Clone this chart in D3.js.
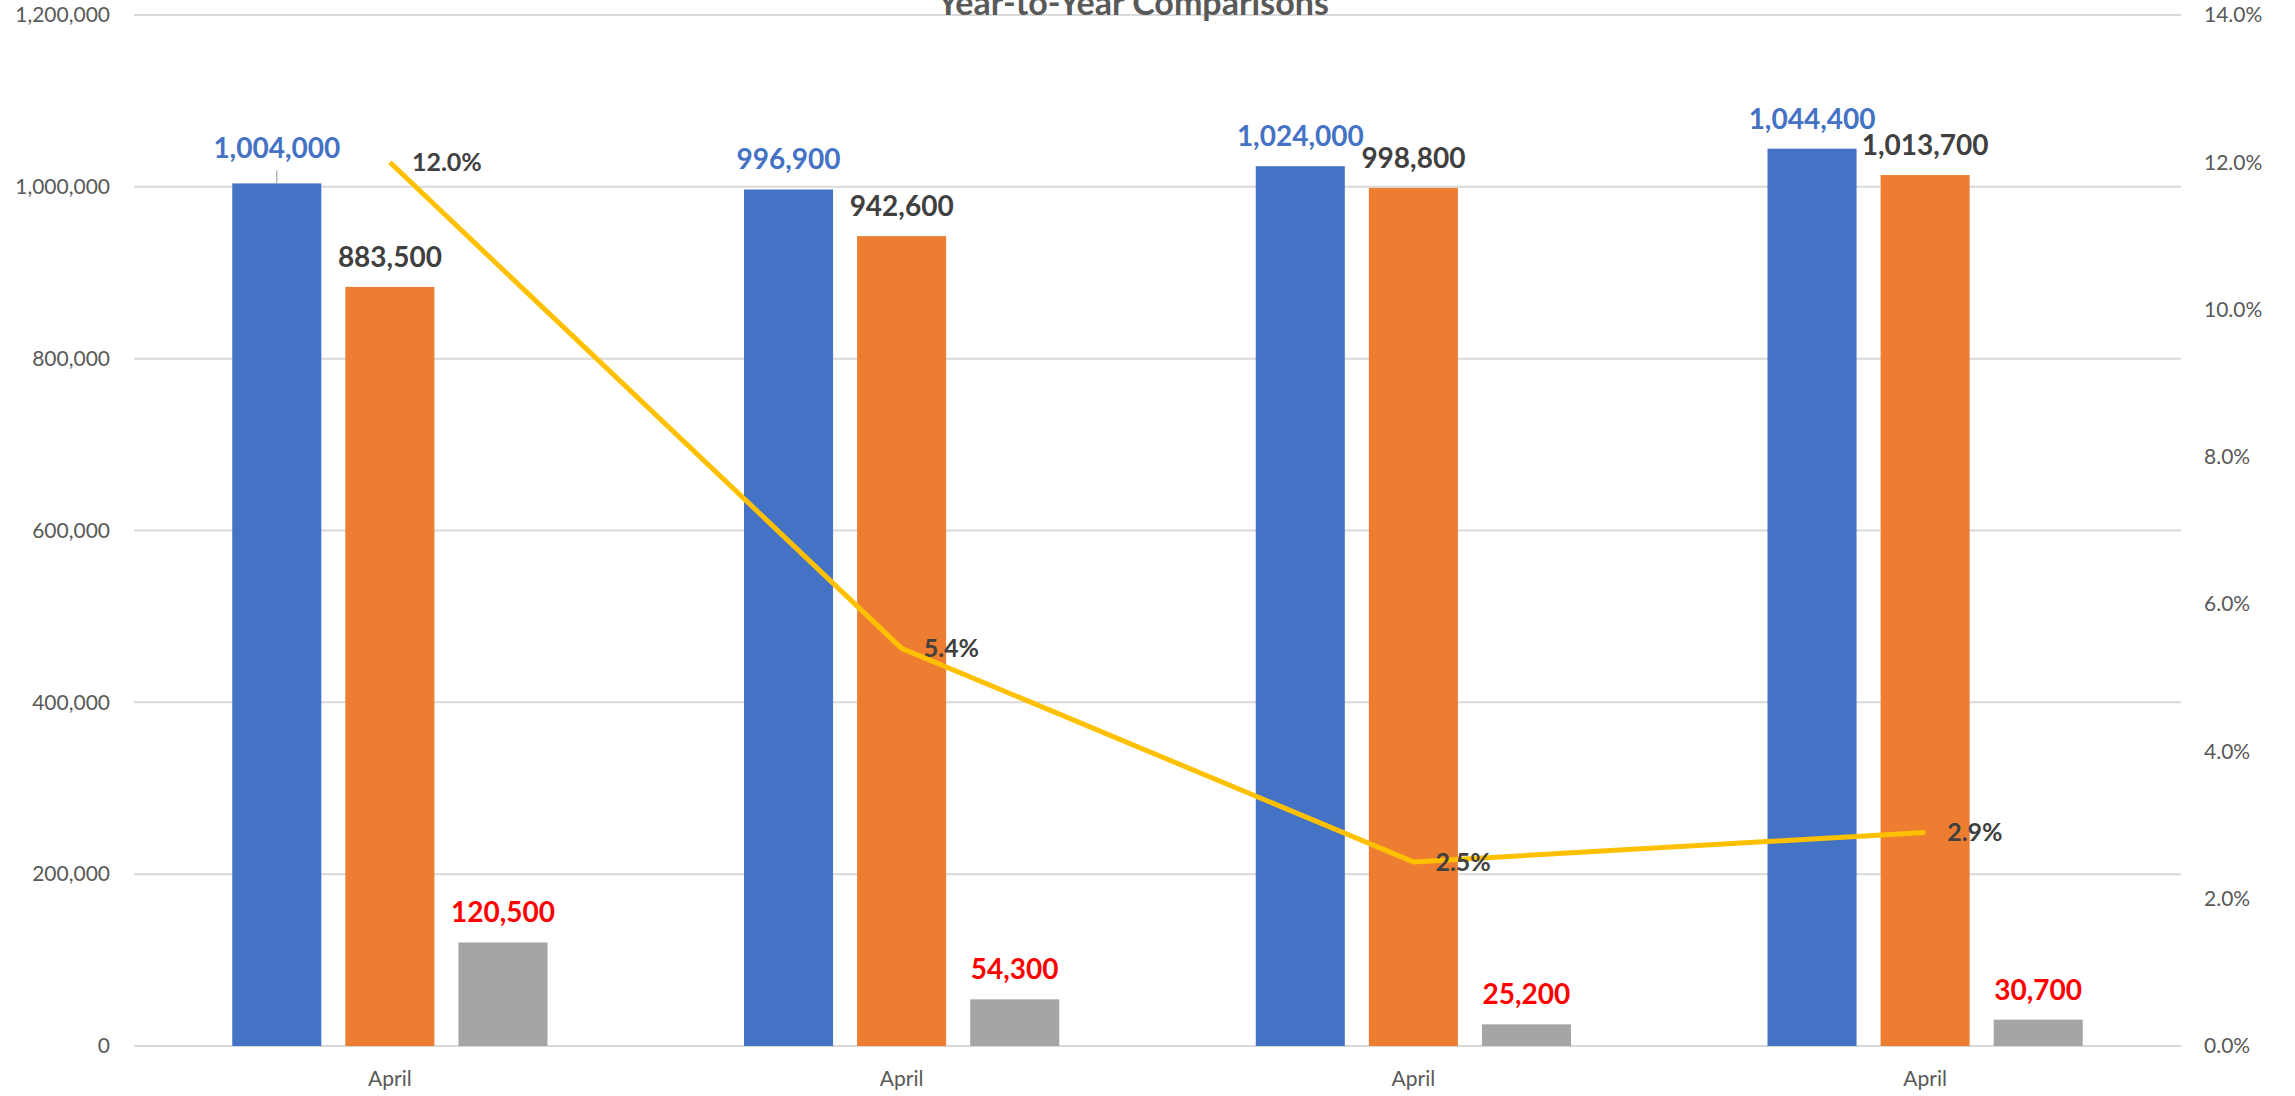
<!DOCTYPE html>
<html>
<head>
<meta charset="utf-8">
<script src="https://cdn.jsdelivr.net/npm/d3@7"></script>
<style>
  html, body { margin: 0; padding: 0; background: #ffffff; }
  svg { display: block; }
  text { font-family: Lato, "Open Sans", sans-serif; }
</style>
</head>
<body>
<svg id="chart" width="2295" height="1096"></svg>
<script>
// ---- data ----
const title = "Year-to-Year Comparisons";
const categories = ["April", "April", "April", "April"];
const seriesA = [1004000, 996900, 1024000, 1044400];   // blue
const seriesB = [883500, 942600, 998800, 1013700];     // orange
const seriesDiff = [120500, 54300, 25200, 30700];      // gray
const pctChange = [0.120, 0.054, 0.025, 0.029];        // line (right axis)
const leftTicks = [0, 200000, 400000, 600000, 800000, 1000000, 1200000];
const rightTicks = [0, 0.02, 0.04, 0.06, 0.08, 0.10, 0.12, 0.14];

// ---- layout ----
const W = 2295, H = 1096;
const plot = { left: 134, right: 2181, top: 15, bottom: 1046 };
const svg = d3.select("#chart");

const x = d3.scaleBand().domain(d3.range(categories.length))
  .range([plot.left, plot.right]).padding(0);
const yL = d3.scaleLinear().domain([0, 1200000]).range([plot.bottom, plot.top]);
const yR = d3.scaleLinear().domain([0, 0.14]).range([plot.bottom, plot.top]);

const bw = x.bandwidth();
const barW = bw * 0.174;
const gap = bw * 0.047;
const groupW = barW * 3 + gap * 2;
const barX = (i, k) => x(i) + (bw - groupW) / 2 + k * (barW + gap);

// gridlines (left axis)
svg.append("g").selectAll("line").data(leftTicks).join("line")
  .attr("x1", plot.left).attr("x2", plot.right)
  .attr("y1", d => yL(d)).attr("y2", d => yL(d))
  .attr("stroke", "#d9d9d9").attr("stroke-width", 2);

// left axis
const axL = svg.append("g").attr("transform", `translate(${plot.left},0)`)
  .call(d3.axisLeft(yL).tickValues(leftTicks).tickFormat(d3.format(",")).tickSize(0).tickPadding(24));
axL.select(".domain").remove();
axL.selectAll("text").attr("font-size", 21).attr("fill", "#595959")
  .attr("font-family", "Lato, sans-serif");

// right axis
const axR = svg.append("g").attr("transform", `translate(${plot.right},0)`)
  .call(d3.axisRight(yR).tickValues(rightTicks).tickFormat(d3.format(".1%")).tickSize(0).tickPadding(23));
axR.select(".domain").remove();
axR.selectAll("text").attr("font-size", 21).attr("fill", "#595959")
  .attr("font-family", "Lato, sans-serif");

// bottom axis
const axB = svg.append("g").attr("transform", `translate(0,${plot.bottom})`)
  .call(d3.axisBottom(x).tickFormat(i => categories[i]).tickSize(0).tickPadding(25));
axB.select(".domain").remove();
axB.selectAll("text").attr("font-size", 21).attr("fill", "#595959")
  .attr("font-family", "Lato, sans-serif");

// title (partly clipped at the top edge, as in the reference)
svg.append("text").attr("x", 1133).attr("y", 15)
  .attr("text-anchor", "middle").attr("font-size", 34).attr("font-weight", 700)
  .attr("fill", "#595959").text(title);

// bars
const series = [
  { values: seriesA, color: "#4472C4", label: "#4472C4" },
  { values: seriesB, color: "#ED7D31", label: "#404040" },
  { values: seriesDiff, color: "#A5A5A5", label: "#FF0000" }
];
const fmt = d3.format(",");
series.forEach((s, k) => {
  const g = svg.append("g");
  g.selectAll("rect").data(s.values).join("rect")
    .attr("x", (d, i) => barX(i, k)).attr("width", barW)
    .attr("y", d => yL(d)).attr("height", d => yL(0) - yL(d))
    .attr("fill", s.color);
  g.selectAll("text").data(s.values).join("text")
    .attr("x", (d, i) => barX(i, k) + barW / 2)
    .attr("y", (d, i) => yL(d) - ((k === 0 && i === 0) ? 25 : 20))
    .attr("text-anchor", "middle").attr("font-size", 28).attr("font-weight", 700)
    .attr("fill", s.label).text(d => fmt(d));
});
// leader line for the raised first label
svg.append("line")
  .attr("x1", barX(0, 0) + barW / 2).attr("x2", barX(0, 0) + barW / 2)
  .attr("y1", yL(seriesA[0]) - 13).attr("y2", yL(seriesA[0]))
  .attr("stroke", "#a6a6a6").attr("stroke-width", 1.2);

// line
const cx = i => x(i) + bw / 2;
svg.append("path").datum(pctChange)
  .attr("d", d3.line().x((d, i) => cx(i)).y(d => yR(d)))
  .attr("fill", "none").attr("stroke", "#FFC000").attr("stroke-width", 5)
  .attr("stroke-linejoin", "round");
svg.append("g").selectAll("text").data(pctChange).join("text")
  .attr("x", (d, i) => cx(i) + 22).attr("y", d => yR(d) + 9)
  .attr("font-size", 25).attr("font-weight", 700).attr("fill", "#404040")
  .text(d => d3.format(".1%")(d));
</script>
</body>
</html>
